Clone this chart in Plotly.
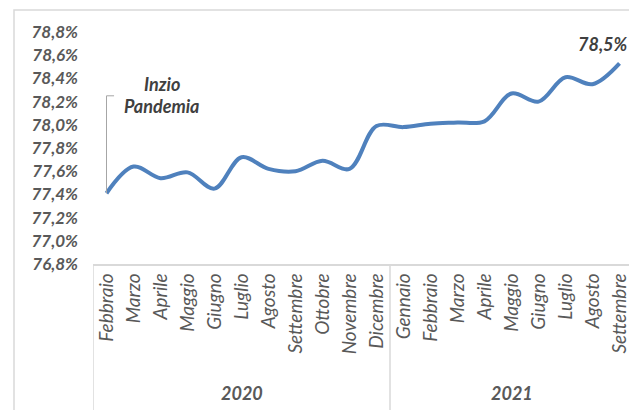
import plotly.graph_objects as go

# dati
mesi = ["Febbraio", "Marzo", "Aprile", "Maggio", "Giugno", "Luglio", "Agosto",
        "Settembre", "Ottobre", "Novembre", "Dicembre",
        "Gennaio", "Febbraio", "Marzo", "Aprile", "Maggio", "Giugno", "Luglio",
        "Agosto", "Settembre"]
anni = ["2020", "2021"]
mesi_per_anno = [11, 9]
tasso = [77.41, 77.64, 77.54, 77.59, 77.45, 77.72, 77.62, 77.60, 77.69, 77.62,
         77.99, 77.98, 78.01, 78.02, 78.03, 78.27, 78.20, 78.41, 78.35, 78.53]

grigio = "#595959"
scuro = "#404040"
blu = "#4F81BD"
bordo = "#D9D9D9"
x = list(range(len(mesi)))

fig = go.Figure()
fig.add_trace(go.Scatter(
    x=x, y=tasso, mode="lines",
    line=dict(color=blu, width=4, shape="spline", smoothing=1),
    hoverinfo="skip", showlegend=False
))

# etichetta ultimo valore
fig.add_annotation(
    x=x[-1], y=tasso[-1], text=f"{tasso[-1]:.1f}%".replace(".", ","),
    showarrow=False, xanchor="right", yanchor="bottom", xshift=10, yshift=6,
    font=dict(family="Lato", size=18, color=scuro, style="italic", weight="bold")
)

# nota inizio pandemia
fig.add_shape(type="path", xref="x", yref="y",
              path=f"M 0,{tasso[0]} L 0,78.25 L 0.28,78.25",
              line=dict(color="#A6A6A6", width=1))
fig.add_annotation(x=2.05, y=78.355, text="Inzio", showarrow=False,
                   font=dict(family="Lato", size=18, color=scuro, style="italic", weight="bold"))
fig.add_annotation(x=2.05, y=78.16, text="Pandemia", showarrow=False,
                   font=dict(family="Lato", size=18, color=scuro, style="italic", weight="bold"))

# riquadro asse x con anni
confini = [-0.5]
for n in mesi_per_anno:
    confini.append(confini[-1] + n)
for b in confini:
    fig.add_shape(type="line", xref="x", yref="paper", x0=b, x1=b, y0=0, y1=-0.63,
                  line=dict(color=bordo, width=1.5))
for i, anno in enumerate(anni):
    fig.add_annotation(x=(confini[i] + confini[i + 1]) / 2, y=-0.556, xref="x", yref="paper",
                       text=anno, showarrow=False, yanchor="middle",
                       font=dict(family="Lato", size=18, color=grigio, style="italic", weight="bold"))

# bordo del grafico
fig.add_shape(type="rect", xref="paper", yref="paper", x0=-0.1463, x1=1.02, y0=-0.7, y1=1.0948,
              line=dict(color=bordo, width=1.5))

# la pagina ha 8px di margine: area del grafico 93-633 x 32-264
fig.update_layout(
    width=629, height=402,
    margin=dict(l=85, r=4, t=24, b=146),
    paper_bgcolor="white", plot_bgcolor="white",
    separators=",.",
    xaxis=dict(
        range=[-0.5, 19.5], tickvals=x, ticktext=mesi, tickangle=-90,
        showgrid=False, zeroline=False, showline=True, linecolor=bordo, linewidth=1.5,
        ticks="", tickfont=dict(family="Lato", size=19, color=grigio, style="italic")
    ),
    yaxis=dict(
        range=[76.8, 78.8], dtick=0.2, tickformat=".1f", ticksuffix="%",
        showgrid=False, zeroline=False, showline=False, ticks="",
        ticklabelstandoff=14,
        tickfont=dict(family="Lato", size=17, color=grigio, style="italic", weight="bold")
    ),
)

fig.write_html("out.html")
